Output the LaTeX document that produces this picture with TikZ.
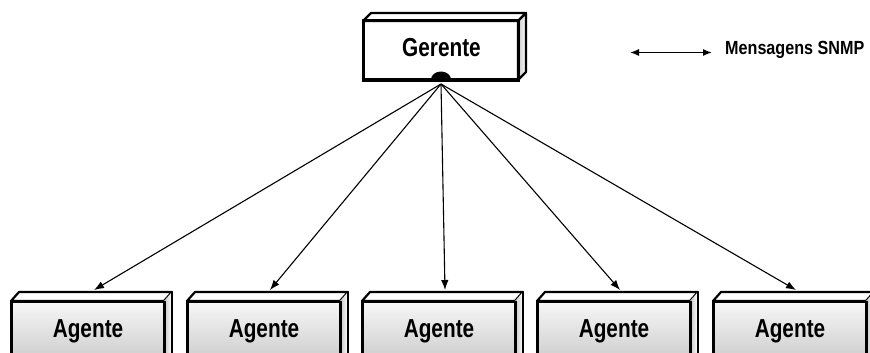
\documentclass[tikz,border=0pt]{standalone}
\usepackage{fontspec}
\setmainfont{Liberation Sans}
\usetikzlibrary{arrows.meta}
\begin{document}
\begin{tikzpicture}[x=1pt,y=-1pt,
  edge/.style={line width=1.1pt,-{Latex[length=10pt,width=7.5pt]}},
  legendarrow/.style={line width=1.3pt,{Latex[length=9pt,width=7pt]}-{Latex[length=9pt,width=7pt]}},
  boxlabel/.style={font=\fontsize{26}{26}\selectfont\bfseries,inner sep=0pt,anchor=base},
  legendlabel/.style={font=\fontsize{19}{19}\selectfont\bfseries,inner sep=0pt,anchor=base west},
  agentbox/.pic={
    % front face with vertical shading
    \fill[top color=gray!6,bottom color=gray!42] (0,0) rectangle (153,64);
    \draw[line width=3pt] (0,64) -- (0,0) -- (153,0) -- (153,64);
    % top face
    \filldraw[fill=white,line width=2.2pt,line join=round] (0,0) -- (8,-9) -- (161,-9) -- (153,0) -- cycle;
    % right face
    \fill[left color=gray!45,right color=white] (153,0) -- (161,-9) -- (161,64) -- (153,64) -- cycle;
    \draw[line width=2.2pt] (161,-9) -- (161,64);
    \draw[line width=3pt] (153,0) -- (153,64);
  },
  managerbox/.pic={
    \fill[white] (0,0) rectangle (155,59);
    \filldraw[fill=white,line width=2.2pt,line join=round] (0,0) -- (8,-8) -- (163,-8) -- (155,0) -- cycle;
    \filldraw[left color=gray!45,right color=white,line width=2.2pt,line join=round] (155,0) -- (163,-8) -- (163,51) -- (155,59) -- cycle;
    \draw[line width=3pt,line join=miter] (0,0) rectangle (155,59);
  }]
\useasboundingbox (0,0) rectangle (870,353);

% manager
\pic at (363,21) {managerbox};
\node[boxlabel] (gerente) at (441.5,57) {\scalebox{0.8}[1]{Gerente}};
\fill (431,79.5) arc[start angle=180,end angle=360,x radius=10,y radius=8];
\coordinate (hub) at (441,84);

% agents
\foreach \i/\L in {1/11,2/187,3/362,4/537,5/713}{
  \pic at (\L,301) {agentbox};
  \node[boxlabel] (agente\i) at (\L+77,337.5) {\scalebox{0.8}[1]{Agente}};
  \coordinate (in\i) at (\L+83,290);
}

% SNMP messages from manager to each agent
\foreach \i in {1,...,5}{
  \draw[edge] (hub) -- (in\i);
}

% legend
\coordinate (la) at (630,52.5);
\coordinate (lb) at (712,52.5);
\draw[legendarrow] (la) -- (lb);
\node[legendlabel] (legend) at (725,54.5) {\scalebox{0.85}[1]{Mensagens SNMP}};
\end{tikzpicture}
\end{document}
